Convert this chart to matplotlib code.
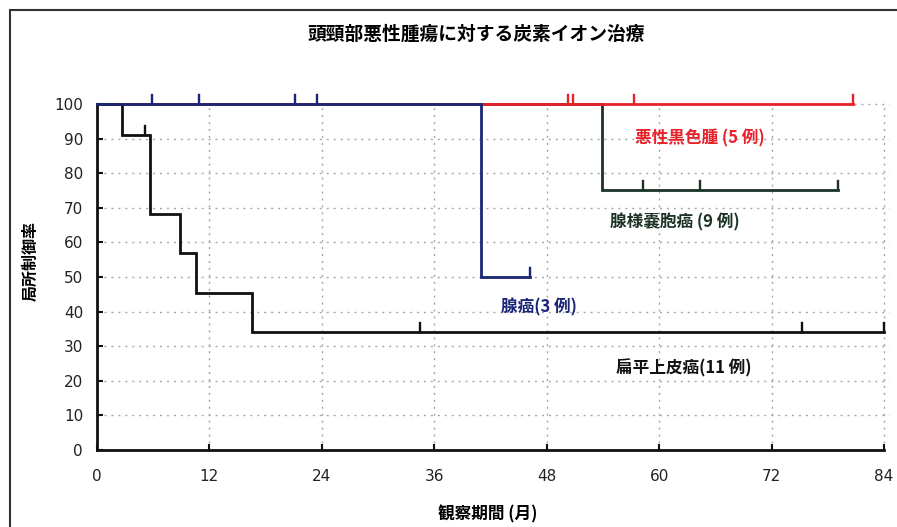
import matplotlib
matplotlib.use("Agg")
import matplotlib.pyplot as plt
from matplotlib.lines import Line2D

plt.rcParams['font.family'] = ['Noto Sans CJK JP', 'DejaVu Sans']

title = "頭頸部悪性腫瘍に対する炭素イオン治療"
xlabel = "観察期間 (月)"
ylabel = "局所制御率"
xticks = [0, 12, 24, 36, 48, 60, 72, 84]
yticks = [0, 10, 20, 30, 40, 50, 60, 70, 80, 90, 100]

# Squamous cell carcinoma (11 cases)
scc_t = [0, 2.7, 5.7, 8.9, 10.6, 16.6, 84]
scc_v = [100, 90.9, 68.2, 56.8, 45.5, 34.1, 34.1]
scc_cens_t = [5.1, 34.5, 75.2, 84]
scc_cens_v = [90.9, 34.1, 34.1, 34.1]

# Adenocarcinoma (3 cases)
ad_t = [0, 41.0, 46.2]
ad_v = [100, 50, 50]
ad_cens_t = [5.9, 10.9, 21.1, 23.5, 46.2]
ad_cens_v = [100, 100, 100, 100, 50]

# Melanoma (5 cases)
mel_t = [0, 80.7]
mel_v = [100, 100]
mel_cens_t = [50.3, 50.8, 57.3, 80.7]
mel_cens_v = [100, 100, 100, 100]

# Adenoid cystic carcinoma (9 cases)
acc_t = [0, 53.9, 79.1]
acc_v = [100, 75, 75]
acc_cens_t = [58.3, 64.4, 79.1]
acc_cens_v = [75, 75, 75]

labels = ["悪性黒色腫 (5 例)", "腺様嚢胞癌 (9 例)", "腺癌(3 例)", "扁平上皮癌(11 例)"]
label_x = [64.3, 61.7, 47.2, 62.6]
label_y = [89.9, 65.9, 41.3, 23.7]

c_black = "#111111"
c_blue = "#1c2578"
c_red = "#e8222a"
c_green = "#1c3326"
colors = [c_red, c_green, c_blue, c_black]

fig = plt.figure(figsize=(8.97, 5.27), dpi=100)
ax = fig.add_axes([0.1081, 0.1461, 0.8774, 0.6566])

ax.set_xlim(0, 84)
ax.set_ylim(0, 100)

# grid
for yv in yticks[1:]:
    ax.plot([0, 84.5], [yv, yv], color="#a8a8a8", lw=1.0, ls=(0, (1.5, 3.5)), clip_on=False, zorder=1)
for xv in xticks[1:]:
    ax.plot([xv, xv], [0, 100], color="#a8a8a8", lw=1.0, ls=(0, (1.5, 3.5)), clip_on=False, zorder=1)

def km(t, v, ct, cv, color, lw=2.0, z=3):
    ax.step(t, v, where='post', color=color, lw=lw, clip_on=False, zorder=z, solid_joinstyle='miter')
    for x, y in zip(ct, cv):
        ax.plot([x, x], [y, y + 2.6], color=color, lw=lw - 0.3, clip_on=False, zorder=z)

km(acc_t, acc_v, acc_cens_t, acc_cens_v, c_green, z=3)
km(mel_t, mel_v, mel_cens_t, mel_cens_v, c_red, z=4)
km(scc_t, scc_v, scc_cens_t, scc_cens_v, c_black, z=5)
km(ad_t, ad_v, ad_cens_t, ad_cens_v, c_blue, z=6)

for lab, x, y, c in zip(labels, label_x, label_y, colors):
    ax.text(x, y, lab, color=c, ha='center', va='center', fontsize=12, fontweight='bold')

ax.set_xticks(xticks)
ax.set_yticks(yticks)
ax.set_xticklabels([str(v) for v in xticks], fontsize=11, family=['DejaVu Sans'], color="#222222")
ax.set_yticklabels([str(v) for v in yticks], fontsize=11, family=['DejaVu Sans'], color="#222222")
ax.tick_params(direction='in', length=4, width=1.5, pad=10, color=c_black)
ax.tick_params(axis='x', pad=14)

for s in ['top', 'right']:
    ax.spines[s].set_visible(False)
for s in ['left', 'bottom']:
    ax.spines[s].set_linewidth(2.0)
    ax.spines[s].set_color(c_black)

fig.text(0.531, 0.934, title, ha='center', va='center', fontsize=13.5, fontweight='bold')
fig.text(0.544, 0.023, xlabel, ha='center', va='center', fontsize=12, fontweight='bold')
fig.text(0.034, 0.505, ylabel, ha='center', va='center', fontsize=11.5, fontweight='bold', rotation=90)

# outer frame (top and left)
fig.add_artist(Line2D([0.011, 1.0], [0.981, 0.981], transform=fig.transFigure, color="#333333", lw=1.5))
fig.add_artist(Line2D([0.011, 0.011], [0.0, 0.981], transform=fig.transFigure, color="#333333", lw=1.5))

fig.savefig("out.png", dpi=100)
